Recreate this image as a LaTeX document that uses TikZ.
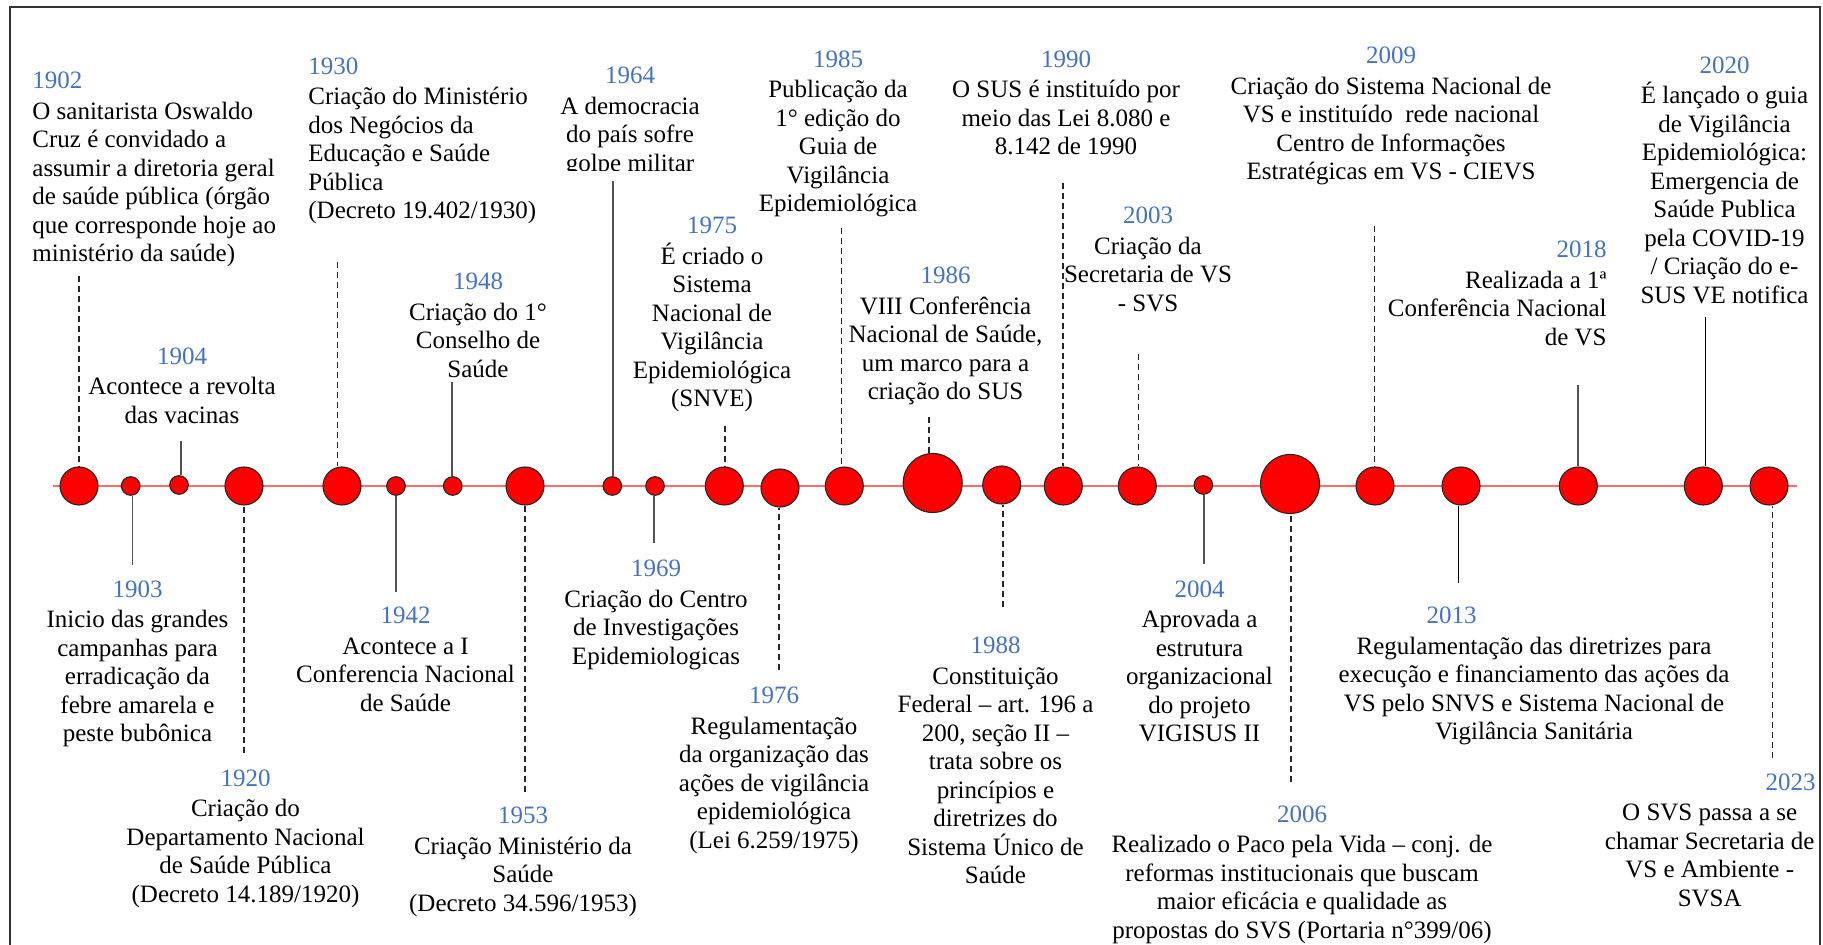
\documentclass[tikz,border=0pt]{standalone}
\usepackage{fontspec}
\setmainfont{Liberation Serif}
\definecolor{anoazul}{RGB}{68,114,196}
\definecolor{linhavermelha}{RGB}{255,110,110}
\newcommand{\ano}[1]{\textcolor{anoazul}{#1}}
\begin{document}
\begin{tikzpicture}[x=0.5pt, y=-0.5pt, line cap=butt, line join=miter,
	ev/.style={align=center, inner sep=0pt, anchor=north, font=\fontsize{12.5pt}{14.25pt}\selectfont},
	dot/.style={circle, draw=black!85, line width=0.55pt, fill=red, inner sep=0pt},
	pq/.style={dot, minimum size=9.3pt}, md/.style={dot, minimum size=19pt}, gd/.style={dot, minimum size=29.5pt},
	tr/.style={draw=black!85, line width=0.65pt, dash pattern=on 3pt off 2pt},
	fio/.style={draw=black!68, line width=0.7pt}, fiop/.style={draw=black, line width=0.7pt}]
	\useasboundingbox (0,0) rectangle (1823,945);
	\draw[black!80, line width=0.75pt] (10,945) -- (10,7) -- (1820,7) -- (1820,945);
	\draw[linhavermelha, line width=1.1pt] (53,486) -- (1797,486);
	% marcos da linha do tempo
	\foreach \n/\x/\y/\s in {1902/79/486/md, 1903/130.7/486/pq, 1904/179/485/pq, 1920/244/486/md, 1930/342/486/md, 1942/396/486/pq, 1948/452.7/486/pq, 1953/525/486/md, 1964/612.3/486/pq, 1969/655/486/pq, 1975/724.3/486/md, 1976/780/488/md, 1985/844.3/486/md, 1986/932.7/483/gd, 1988/1001.7/485/md, 1990/1063.3/486/md, 2003/1137.3/486/md, 2004/1203.3/485/pq, 2006/1290/484/gd, 2009/1375/486/md, 2013/1461/486/md, 2018/1578.3/486/md, 2020/1703.3/486/md, 2023/1769/486/md}
		\node[\s] (c\n) at (\x,\y) {};
	% ligações até os textos
	\foreach \n/\x/\y/\a/\s in {1902/79/276/north/tr, 1903/132.7/565/south/fio, 1904/181/440.7/north/fio, 1920/244/753/south/tr, 1930/337.7/261.7/north/tr, 1942/396/591.7/south/fio, 1948/452/381.7/north/fio, 1953/525/791.7/south/tr, 1964/613/181/north/fio, 1969/654/542.7/south/fio, 1975/725/426/north/tr, 1976/779/670/south/tr, 1985/841.7/228.3/north/tr, 1986/929/416.7/north/tr, 1988/1003/607.3/south/tr, 1990/1063/183.3/north/tr, 2003/1138.7/354/north/tr, 2004/1204/564/south/fio, 2006/1291/781.7/south/tr, 2009/1374.3/226/north/tr, 2013/1458.3/583.3/south/fiop, 2018/1578/385/north/fio, 2020/1705.7/316.7/north/fiop, 2023/1772.3/758.3/south/tr}
		{\coordinate (k\n) at (\x,\y);
		\draw[\s] (k\n) -- (k\n |- c\n.\a);}
	% textos acima da linha
	\node[ev, anchor=north west, align=left] (t1902) at (32,71.7) {\ano{1902}\\[1pt]O sanitarista Oswaldo\\Cruz é convidado a\\assumir a diretoria geral\\de saúde pública (órgão\\que corresponde hoje ao\\ministério da saúde)};
	\node[ev] (t1904) at (182,347.3) {\ano{1904}\\[1pt]Acontece a revolta\\das vacinas};
	\node[ev, anchor=north west, align=left] (t1930) at (308,57.3) {\ano{1930}\\[1pt]Criação do Ministério\\dos Negócios da\\Educação e Saúde\\Pública\\(Decreto 19.402/1930)};
	\node[ev] (t1948) at (478,272.7) {\ano{1948}\\[1pt]Criação do 1°\\Conselho de\\Saúde};
	\begin{scope}
		\clip (540,0) rectangle (720,171);
		\node[ev] (t1964) at (630,66.7) {\ano{1964}\\[1pt]A democracia\\do país sofre\\golpe militar};
	\end{scope}
	\node[ev] (t1975) at (712,216.7) {\ano{1975}\\[1pt]É criado o\\Sistema\\Nacional de\\Vigilância\\Epidemiológica\\(SNVE)};
	\node[ev] (t1985) at (838,50) {\ano{1985}\\[1pt]Publicação da\\1° edição do\\Guia de\\Vigilância\\Epidemiológica};
	\node[ev] (t1986) at (945.5,266.7) {\ano{1986}\\[1pt]VIII Conferência\\Nacional de Saúde,\\um marco para a\\criação do SUS};
	\node[ev] (t1990) at (1066,50) {\ano{1990}\\[1pt]O SUS é instituído por\\meio das Lei 8.080 e\\8.142 de 1990};
	\node[ev] (t2003) at (1148,206.7) {\ano{2003}\\[1pt]Criação da\\Secretaria de VS\\- SVS};
	\node[ev] (t2009) at (1391,46.7) {\ano{2009}\\[1pt]Criação do Sistema Nacional de\\VS e instituído~ rede nacional\\Centro de Informações\\Estratégicas em VS - CIEVS};
	\node[ev, anchor=north east, align=right] (t2018) at (1607,240.7) {\ano{2018}\\[1pt]Realizada a 1ª\\Conferência Nacional\\de VS};
	\node[ev] (t2020) at (1724.5,56) {\ano{2020}\\[1pt]É lançado o guia\\de Vigilância\\Epidemiológica:\\Emergencia de\\Saúde Publica\\pela COVID-19\\/ Criação do e-\\SUS VE notifica};
	% textos abaixo da linha
	\node[ev] (t1903) at (137.5,580) {\ano{1903}\\[1pt]Inicio das grandes\\campanhas para\\erradicação da\\febre amarela e\\peste bubônica};
	\node[ev] (t1920) at (245.5,769.3) {\ano{1920}\\[1pt]Criação do\\Departamento Nacional\\de Saúde Pública\\(Decreto 14.189/1920)};
	\node[ev] (t1942) at (405.5,606.7) {\ano{1942}\\[1pt]Acontece a I\\Conferencia Nacional\\de Saúde};
	\node[ev] (t1953) at (523,806.7) {\ano{1953}\\[1pt]Criação Ministério da\\Saúde\\(Decreto 34.596/1953)};
	\node[ev] (t1969) at (656,560) {\ano{1969}\\[1pt]Criação do Centro\\de Investigações\\Epidemiologicas};
	\node[ev] (t1976) at (774,686.7) {\ano{1976}\\[1pt]Regulamentação\\da organização das\\ações de vigilância\\epidemiológica\\(Lei 6.259/1975)};
	\node[ev] (t1988) at (995.5,636.7) {\ano{1988}\\[1pt]Constituição\\Federal – art. 196 a\\200, seção II –\\trata sobre os\\princípios e\\diretrizes do\\Sistema Único de\\Saúde};
	\node[ev] (t2004) at (1199.5,580) {\ano{2004}\\[1pt]Aprovada a\\estrutura\\organizacional\\do projeto\\VIGISUS II};
	\node[ev] (t2006) at (1302,805) {\ano{2006}\\[1pt]Realizado o Paco pela Vida – conj. de\\reformas institucionais que buscam\\maior eficácia e qualidade as\\propostas do SVS (Portaria n°399/06)};
	\node[ev] (t2013) at (1534,606.7) {\ano{2013}\hspace*{82.5pt}\\[1pt]Regulamentação das diretrizes para\\execução e financiamento das ações da\\VS pelo SNVS e Sistema Nacional de\\Vigilância Sanitária};
	\node[ev] (t2023) at (1709.7,773.3) {\hspace*{81pt}\ano{2023}\\[1pt]O SVS passa a se\\chamar Secretaria de\\VS e Ambiente -\\SVSA};
\end{tikzpicture}
\end{document}
